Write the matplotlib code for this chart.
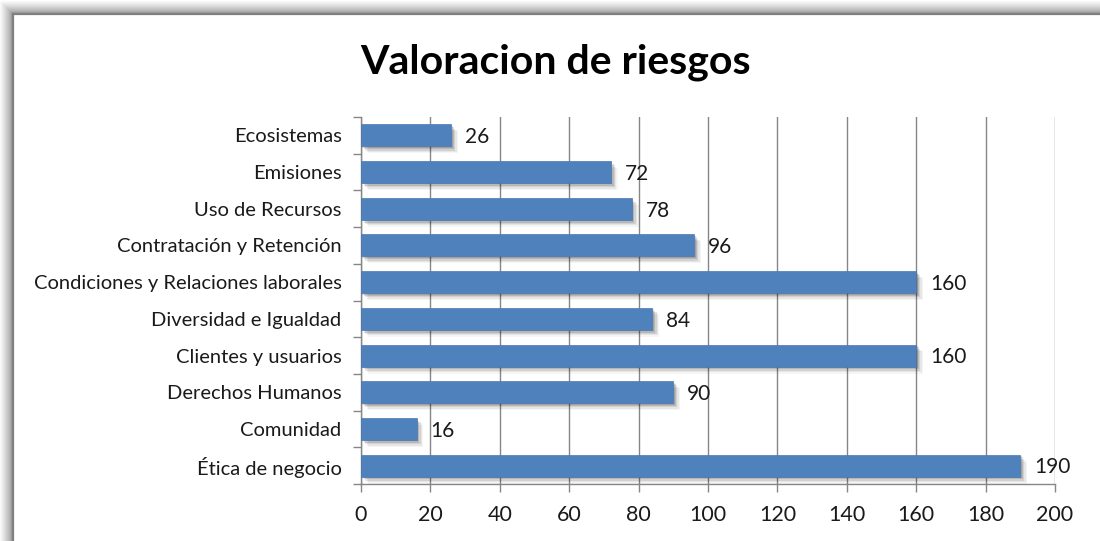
import matplotlib
matplotlib.use("Agg")
import matplotlib.pyplot as plt
import matplotlib.patheffects as pe
from matplotlib.lines import Line2D
import numpy as np

# data (top to bottom as shown)
categorias = ["Ecosistemas", "Emisiones", "Uso de Recursos", "Contratación y Retención",
              "Condiciones y Relaciones laborales", "Diversidad e Igualdad",
              "Clientes y usuarios", "Derechos Humanos", "Comunidad", "Ética de negocio"]
valores = [26, 72, 78, 96, 160, 84, 160, 90, 16, 190]
xticks = [0, 20, 40, 60, 80, 100, 120, 140, 160, 180, 200]

plt.rcParams['font.family'] = ['Lato', 'DejaVu Sans']

W, H = 1100, 541
fig = plt.figure(figsize=(W / 100, H / 100), dpi=100)
fig.patch.set_facecolor("white")

# outer frame with soft shadow on top / left
for k in range(13):
    g = 0.62 + 0.38 * (k / 12.0) ** 0.8
    c = (g, g, g)
    yy = 12 - k
    xx = 11 - k
    fig.add_artist(Line2D([xx / W, 1], [1 - yy / H, 1 - yy / H], color=c, lw=1.0,
                          transform=fig.transFigure))
    fig.add_artist(Line2D([xx / W, xx / W], [0, 1 - yy / H], color=c, lw=1.0,
                          transform=fig.transFigure))
fig.add_artist(Line2D([12.5 / W, 1], [1 - 13.5 / H, 1 - 13.5 / H], color="#7f7f7f", lw=1.6,
                      transform=fig.transFigure))
fig.add_artist(Line2D([12.5 / W, 12.5 / W], [0, 1 - 13.5 / H], color="#7f7f7f", lw=1.6,
                      transform=fig.transFigure))

ax = fig.add_axes([361 / W, 57 / H, 694 / W, 367 / H])
y = np.arange(len(categorias))

shadow = [pe.SimplePatchShadow(offset=(o, -o), shadow_rgbFace="black", alpha=a)
          for o, a in [(5, 0.04), (4, 0.06), (3, 0.09), (2, 0.12), (1, 0.12)]]
bars = ax.barh(y, valores, height=0.6, color="#4f81bd", edgecolor="#4a7ab3", lw=0.5, zorder=3)
for b in bars:
    b.set_path_effects(shadow + [pe.Normal()])

for yi, v in zip(y, valores):
    ax.text(v + 4.0, yi + 0.05, str(v), va="center", ha="left", fontsize=15, color="#1a1a1a",
            zorder=5)

ax.set_ylim(len(categorias) - 0.5, -0.5)
ax.set_xlim(0, 200)
ax.set_xticks(xticks)
ax.set_xticklabels([str(t) for t in xticks], fontsize=15.5, color="#1a1a1a")
ax.set_yticks(y)
ax.set_yticklabels(categorias, fontsize=14.5, color="#1a1a1a")
ax.set_yticks(np.arange(len(categorias) + 1) - 0.5, minor=True)
ax.tick_params(axis="y", which="major", length=0, pad=14)
ax.tick_params(axis="y", which="minor", length=6, color="#868686", width=1)
ax.tick_params(axis="x", which="major", length=6, color="#868686", width=1, pad=9)
ax.grid(axis="x", color="#868686", lw=1, zorder=0)
ax.set_axisbelow(True)
for s in ["top", "right"]:
    ax.spines[s].set_visible(False)
for s in ["left", "bottom"]:
    ax.spines[s].set_color("#868686")
    ax.spines[s].set_linewidth(1)

fig.text(556 / W, 1 - 62 / H, "Valoracion de riesgos", ha="center", va="center",
         fontsize=29.5, fontweight="bold", color="black")

fig.savefig("out.png", dpi=100)
